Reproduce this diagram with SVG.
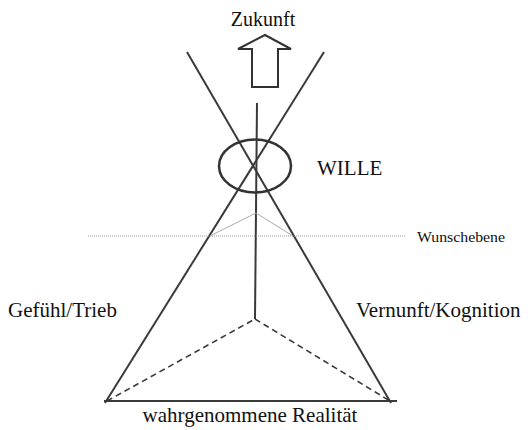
<svg xmlns="http://www.w3.org/2000/svg" width="531" height="430" viewBox="0 0 531 430">
<style>
.t{font-family:"Liberation Serif","Times New Roman",serif;fill:#111;}
.ln{stroke:#3a3a3a;stroke-width:2;fill:none;stroke-linecap:butt;}
.ds{stroke:#3a3a3a;stroke-width:1.6;fill:none;stroke-dasharray:6 4;}
.gr{stroke:#aaa;stroke-width:1;fill:none;}
</style>
<rect width="531" height="430" fill="#fff"/>
<g id="connectors">
<line class="ln" x1="105" y1="403" x2="324" y2="52"/>
<line class="ln" x1="391" y1="403" x2="187" y2="52"/>
<line class="ln" x1="257" y1="103" x2="255" y2="319"/>
<line class="ln" x1="104" y1="401" x2="397" y2="401"/>
<line class="ds" x1="107" y1="401" x2="255" y2="319"/>
<line class="ds" x1="255" y1="319" x2="390" y2="401"/>
<polyline class="gr" points="210,236 256,213 293,236"/>
<line x1="88" y1="236" x2="405" y2="236" stroke="#999" stroke-width="1" stroke-dasharray="1 1"/>
</g>
<g id="zukunft">
<polygon points="265,35 291,49 278,49 278,87 252,87 252,49 238,49" fill="#fff" stroke="#333" stroke-width="2" stroke-linejoin="miter"/>
<text class="t" x="263" y="26" font-size="20" text-anchor="middle">Zukunft</text>
</g>
<g id="wille">
<ellipse cx="255" cy="166" rx="36" ry="26.5" fill="none" stroke="#333" stroke-width="2.5"/>
<text class="t" x="317" y="175" font-size="21">WILLE</text>
</g>
<g id="wunschebene">
<text class="t" x="417" y="242" font-size="14" textLength="88" lengthAdjust="spacingAndGlyphs">Wunschebene</text>
</g>
<g id="gefuehl">
<text class="t" x="8" y="317" font-size="21">Gefühl/Trieb</text>
</g>
<g id="vernunft">
<text class="t" x="356" y="317" font-size="21">Vernunft/Kognition</text>
</g>
<g id="realitaet">
<text class="t" x="250" y="422" font-size="21" text-anchor="middle">wahrgenommene Realität</text>
</g>
</svg>
